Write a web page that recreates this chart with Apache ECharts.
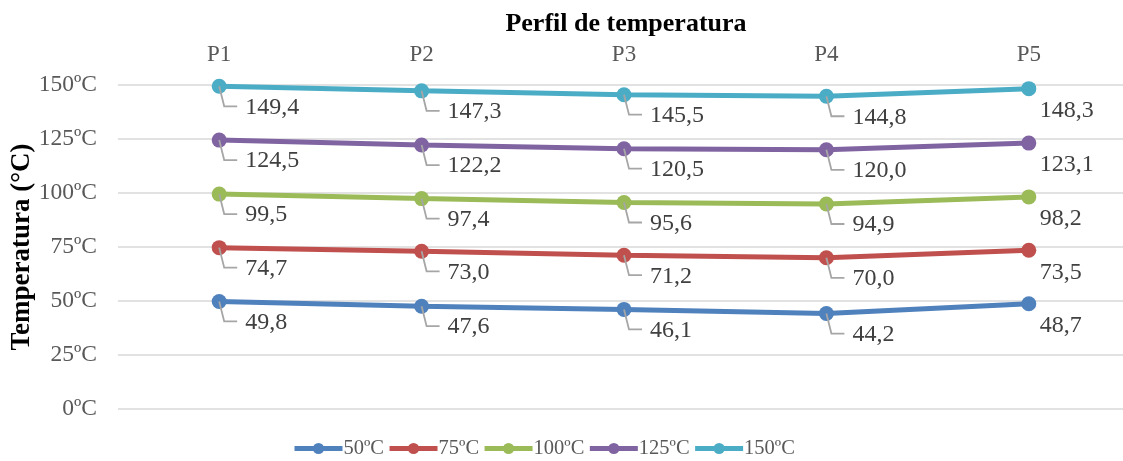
<!DOCTYPE html>
<html>
<head>
<meta charset="utf-8">
<script src="https://cdn.jsdelivr.net/npm/echarts@6/dist/echarts.min.js"></script>
<style>
  html, body { margin: 0; padding: 0; background: #fff; }
  #chart { width: 1123px; height: 461px; }
</style>
</head>
<body>
<div id="chart"></div>
<script>
// Measurement points along the profile
const categories = ['P1', 'P2', 'P3', 'P4', 'P5'];

// Temperature readings (°C) for each set point
const seriesNames = ['50ºC', '75ºC', '100ºC', '125ºC', '150ºC'];
const s50  = [49.8, 47.6, 46.1, 44.2, 48.7];
const s75  = [74.7, 73.0, 71.2, 70.0, 73.5];
const s100 = [99.5, 97.4, 95.6, 94.9, 98.2];
const s125 = [124.5, 122.2, 120.5, 120.0, 123.1];
const s150 = [149.4, 147.3, 145.5, 144.8, 148.3];
const seriesValues = [s50, s75, s100, s125, s150];

// Y axis ticks
const yMin = 0, yMax = 150, yStep = 25;

const colors = ['#4f81bd', '#c0504d', '#9bbb59', '#8064a2', '#4bacc6'];
const FONT = '"Liberation Serif", "Times New Roman", serif';
const fmt = v => v.toFixed(1).replace('.', ',');

const chart = echarts.init(document.getElementById('chart'), null, { renderer: 'canvas' });

const lastIdx = categories.length - 1;

const lineSeries = seriesValues.map((vals, si) => ({
  name: seriesNames[si],
  type: 'line',
  data: vals.map((v, i) => {
    const item = { value: v };
    if (i === lastIdx) {
      item.label = { offset: [11, 22] };
    }
    return item;
  }),
  color: colors[si],
  symbol: 'circle',
  symbolSize: 15,
  lineStyle: { width: 5, color: colors[si] },
  itemStyle: { color: colors[si] },
  z: 3,
  label: {
    show: true,
    position: 'inside',
    align: 'left',
    verticalAlign: 'middle',
    offset: [26, 21],
    fontFamily: FONT,
    fontSize: 24,
    color: '#404040',
    formatter: p => fmt(p.value)
  },
  emphasis: { disabled: true },
  animation: false
}));

// Leader lines from each point to its value label
const leaderSeries = {
  type: 'custom',
  name: 'leaders',
  z: 4,
  silent: true,
  animation: false,
  data: seriesValues.flatMap(vals =>
    vals.map((v, i) => [i, v]).filter(d => d[0] !== lastIdx)
  ),
  renderItem: (params, api) => {
    const p = api.coord([api.value(0), api.value(1)]);
    return {
      type: 'polyline',
      shape: { points: [[p[0], p[1]], [p[0] + 5, p[1] + 20], [p[0] + 18, p[1] + 20]] },
      style: { stroke: '#a6a6a6', lineWidth: 1.8, fill: null }
    };
  }
};

chart.setOption({
  animation: false,
  backgroundColor: '#fff',
  title: {
    text: 'Perfil de temperatura',
    left: 621,
    top: 6,
    textAlign: 'center',
    textStyle: { fontFamily: FONT, fontSize: 26, fontWeight: 'bold', color: '#000' }
  },
  grid: {
    left: 118, top: 85, width: 1012, height: 324,
    containLabel: false,
    outerBoundsMode: 'none'
  },
  legend: {
    data: seriesNames,
    top: 438,
    left: 292,
    padding: 0,
    itemWidth: 48,
    itemHeight: 14,
    itemGap: 3,
    lineStyle: { width: 5 },
    textStyle: { fontFamily: FONT, fontSize: 20.5, color: '#595959', padding: [0, 0, 0, -4] }
  },
  xAxis: {
    type: 'category',
    data: categories,
    position: 'top',
    boundaryGap: true,
    axisLine: { show: false },
    axisTick: { show: false },
    axisLabel: { fontFamily: FONT, fontSize: 23, color: '#595959', margin: 19 },
    splitLine: { show: false }
  },
  yAxis: {
    type: 'value',
    min: yMin,
    max: yMax,
    interval: yStep,
    name: 'Temperatura (°C)',
    nameLocation: 'middle',
    nameGap: 82,
    nameMoveOverlap: false,
    nameRotate: 90,
    nameTextStyle: { fontFamily: FONT, fontSize: 27, fontWeight: 'bold', color: '#000' },
    axisLine: { show: false },
    axisTick: { show: false },
    axisLabel: {
      fontFamily: FONT, fontSize: 23.5, color: '#595959', margin: 21,
      formatter: v => v + 'ºC'
    },
    splitLine: { lineStyle: { color: '#d9d9d9', width: 1.5 } }
  },
  series: [...lineSeries, leaderSeries]
});
</script>
</body>
</html>
